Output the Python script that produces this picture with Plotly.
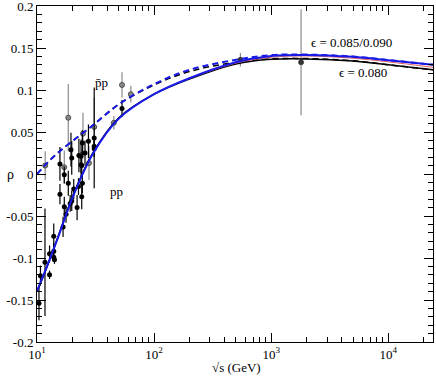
import plotly.graph_objects as go

# ---------------- data ----------------
# pp measurements (sqrt(s) GeV, rho, error)
pp_sqrt_s = [10.4, 10.7, 11.7, 12.8, 12.8, 13.9, 14.1, 13.9, 13.9, 15.7, 16.7, 17.1, 17.7,
             18.5, 19.2, 19.8, 20.6, 22.0, 22.6, 24.1, 24.4, 15.7, 17.1, 19.5, 19.8,
             22.8, 23.8, 23.8, 24.1, 24.4, 25.7, 27.5, 30.8, 30.8, 30.8, 53.2]
pp_rho = [-0.154, -0.121, -0.105, -0.095, -0.120, -0.092, -0.102, -0.099, -0.074, -0.024,
          -0.063, -0.039, -0.048, -0.011, -0.035, -0.032, -0.018, -0.040, -0.015, -0.027,
          -0.011, 0.012, -0.001, 0.029, 0.019, 0.022, 0.021, 0.011, 0.010, 0.037, 0.025,
          0.039, 0.043, 0.033, 0.030, 0.078]
pp_err = [0.020, 0.012, 0.064, 0.010, 0.005, 0.010, 0.005, 0.005, 0.015, 0.012,
          0.012, 0.012, 0.010, 0.015, 0.010, 0.012, 0.012, 0.015, 0.010, 0.015,
          0.012, 0.020, 0.010, 0.020, 0.020, 0.020, 0.020, 0.015, 0.010, 0.015, 0.015,
          0.020, 0.060, 0.010, 0.010, 0.010]

# pbar-p measurements
pbp_sqrt_s = [11.75, 17.1, 18.5, 24.7, 27.8, 30.8, 45.3, 53.2, 63.3, 546.0, 1800.0]
pbp_rho = [0.010, 0.008, 0.067, 0.048, 0.013, 0.056, 0.061, 0.106, 0.095, 0.136, 0.133]
pbp_err = [0.017, 0.020, 0.040, 0.025, 0.020, 0.035, 0.008, 0.015, 0.010, 0.008, 0.063]
pbp_colors = ["#8a8a8a"] * 9 + ["#333333", "#333333"]

# model curves
curve_sqrt_s = [10, 12, 15, 20, 30, 50, 100, 200, 500, 1000, 2000, 5000, 10000, 24100]
rho_pp_085 = [-0.139, -0.112, -0.077, -0.029, 0.024, 0.066, 0.095, 0.114, 0.133, 0.1405,
              0.1418, 0.1395, 0.1355, 0.130]
rho_pbp_085 = [0.000, 0.012, 0.025, 0.039, 0.058, 0.083, 0.107, 0.124, 0.136, 0.1415,
               0.1422, 0.1398, 0.1357, 0.130]
rho_pp_080 = [-0.140, -0.113, -0.076, -0.028, 0.025, 0.067, 0.095, 0.113, 0.131, 0.1365,
              0.137, 0.1345, 0.130, 0.124]
rho_pbp_080 = [0.000, 0.012, 0.025, 0.039, 0.058, 0.083, 0.106, 0.122, 0.133, 0.137,
               0.1375, 0.1348, 0.130, 0.124]
red_sqrt_s = [200, 500, 1000, 2000, 5000, 10000, 24100]
rho_red = [0.114, 0.132, 0.139, 0.1405, 0.1378, 0.1335, 0.127]

y_ticks = [0.2, 0.15, 0.1, 0.05, 0, -0.05, -0.1, -0.15, -0.2]
y_ticklabels = ["0.2", "0.15", "0.1", "0.05", "0", "-0.05", "-0.1", "-0.15", "-0.2"]
x_ticks = [10, 100, 1000, 10000]
x_ticklabels = ["10<sup>1</sup>", "10<sup>2</sup>", "10<sup>3</sup>", "10<sup>4</sup>"]

FONT = "Liberation Serif"

fig = go.Figure()

fig.add_trace(go.Scatter(
    x=pbp_sqrt_s, y=pbp_rho, mode="markers",
    error_y=dict(type="data", array=pbp_err, color="#8a8a8a", thickness=1.2, width=0),
    marker=dict(size=5, color=pbp_colors, line=dict(color="#333333", width=0.8)),
    showlegend=False))
fig.add_trace(go.Scatter(
    x=pp_sqrt_s, y=pp_rho, mode="markers",
    error_y=dict(type="data", array=pp_err, color="black", thickness=1.2, width=0),
    marker=dict(size=5, color="black"),
    showlegend=False))

fig.add_trace(go.Scatter(x=curve_sqrt_s, y=rho_pp_080, mode="lines",
                         line=dict(color="black", width=1.5, shape="spline"), showlegend=False))
fig.add_trace(go.Scatter(x=curve_sqrt_s, y=rho_pbp_080, mode="lines",
                         line=dict(color="black", width=1.5, shape="spline", dash="6px,4px"),
                         showlegend=False))
fig.add_trace(go.Scatter(x=red_sqrt_s, y=rho_red, mode="lines",
                         line=dict(color="#e06060", width=1, shape="spline"), showlegend=False))
fig.add_trace(go.Scatter(x=curve_sqrt_s, y=rho_pp_085, mode="lines",
                         line=dict(color="#1a1ae6", width=2, shape="spline"), showlegend=False))
fig.add_trace(go.Scatter(x=curve_sqrt_s, y=rho_pbp_085, mode="lines",
                         line=dict(color="#1a1ae6", width=2, shape="spline", dash="6px,4px"),
                         showlegend=False))

minor_x = [d * 10 ** k for k in range(1, 5) for d in range(2, 10)]

fig.update_layout(
    width=436, height=382,
    margin=dict(l=37, r=3, t=6, b=40),
    paper_bgcolor="white", plot_bgcolor="white",
    font=dict(family=FONT, size=13, color="black"),
    xaxis=dict(type="log", range=[1, 4.382], showgrid=False, zeroline=False, automargin=False,
               showline=True, linecolor="black", linewidth=1, mirror="allticks",
               ticks="inside", ticklen=9, tickcolor="black", ticklabeloverflow="allow",
               tickvals=x_ticks, ticktext=x_ticklabels,
               minor=dict(ticks="inside", ticklen=5, tickcolor="black", tickvals=minor_x),
               tickfont=dict(family=FONT, size=13)),
    yaxis=dict(range=[-0.2, 0.2], showgrid=False, zeroline=False, automargin=False,
               showline=True, linecolor="black", linewidth=1, mirror="allticks",
               ticks="inside", ticklen=9, tickcolor="black", ticklabeloverflow="allow",
               tickvals=y_ticks, ticktext=y_ticklabels,
               minor=dict(ticks="inside", ticklen=5, tickcolor="black", dtick=0.01),
               tickfont=dict(family=FONT, size=13)),
    annotations=[
        dict(text="ρ", xref="paper", yref="paper", x=-0.08, y=0.5, showarrow=False,
             font=dict(family=FONT, size=14)),
        dict(text="√s (GeV)", xref="paper", yref="paper", x=0.503, y=-0.103,
             showarrow=False, font=dict(family=FONT, size=13)),
        dict(text="p\u0304p", x=1.553, y=0.1095, showarrow=False,
             font=dict(family=FONT, size=13)),
        dict(text="pp", x=1.675, y=-0.021, showarrow=False, font=dict(family=FONT, size=13)),
        dict(text="ϵ = 0.085/0.090", x=3.69, y=0.157, showarrow=False,
             font=dict(family=FONT, size=13)),
        dict(text="ϵ = 0.080", x=3.784, y=0.121, showarrow=False,
             font=dict(family=FONT, size=13)),
    ],
)

fig.write_html("out.html", config={"displayModeBar": False},
               post_script="document.body.style.margin='0';document.body.style.padding='0';")
